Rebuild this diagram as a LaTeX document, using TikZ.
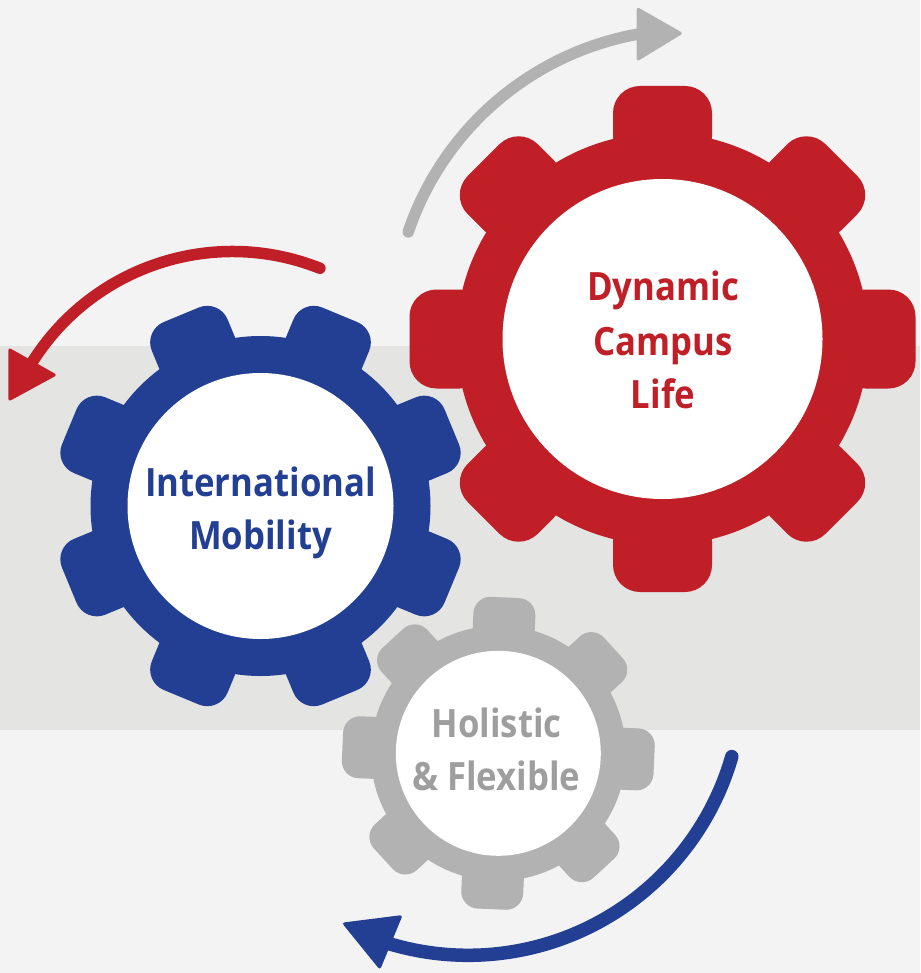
\documentclass[tikz,border=0pt]{standalone}
\usepackage{fontspec}
\setmainfont{Open Sans}
\newfontfamily\gearfont{Open Sans}[FakeStretch=0.89]
\definecolor{gred}{HTML}{C01F27}
\definecolor{gblue}{HTML}{233F93}
\definecolor{ggray}{HTML}{B2B2B2}
\definecolor{gtextgray}{HTML}{9E9E9E}
\definecolor{bglight}{HTML}{F3F3F3}
\definecolor{bgband}{HTML}{E4E4E3}
\newcommand\mygear[9]{%
  \begin{scope}[shift={(#1,#2)}]
    \fill[#9] (0,0) circle[radius=#4];
    \foreach \k in {0,...,7}{
      \pgfmathsetmacro\ang{\k*45+(#8)}
      \fill[#9, rotate=\ang, rounded corners=#7pt] (#4-30,-#6) -- (#3,-#6) -- (#3,#6) -- (#4-30,#6) -- cycle;
    }
    \fill[white] (0,0) circle[radius=#5];
  \end{scope}}
\tikzset{
  gtext/.style={font=\gearfont\fontsize{39}{47}\selectfont\bfseries, anchor=base, inner sep=0pt},
  arcline/.style={line width=#1, line cap=round},
  headfill/.style={rounded corners=3pt}
}
\begin{document}
\begin{tikzpicture}[x=1pt,y=-1pt]
\useasboundingbox (0,0) rectangle (920,973);
\fill[bglight] (0,0) rectangle (920,973);
\fill[bgband] (0,346) rectangle (920,730);

% arrows
\coordinate (gc) at (690.4,327.4);
\draw[ggray, arcline=11.5pt] (gc) ++(198.7:297.9) arc[start angle=198.7,end angle=261,radius=297.9];
\fill[ggray, headfill] (636.7,6.7) -- (683.3,33.3) -- (636.7,61.7) -- cycle;

\coordinate (rc) at (232.5,488);
\draw[gred, arcline=11.5pt] (rc) ++(-68.3:236.5) arc[start angle=-68.3,end angle=-150,radius=236.5];
\fill[gred, headfill] (8.3,347.3) -- (57.3,375) -- (8.3,401.7) -- cycle;

\coordinate (bc) at (468.1,681);
\draw[gblue, arcline=13.5pt] (bc) ++(16:274.3) arc[start angle=16,end angle=108.5,radius=274.3];
\fill[gblue, headfill] (341.7,922.7) -- (402.7,915) -- (380,970) -- cycle;

% gears
\mygear{662.5}{339}{253}{206}{160}{49.5}{27}{0}{gred}
\mygear{260.5}{506}{207}{170}{133}{41}{22}{22.5}{gblue}
\mygear{498.3}{753.3}{156}{127.5}{102.5}{31}{17}{-2.5}{ggray}

% texts
\node[gtext, text=gred] (d1) at (663,300.7) {Dynamic};
\node[gtext, text=gred] (d2) at (663,355) {Campus};
\node[gtext, text=gred] (d3) at (663,408.3) {Life};
\node[gtext, text=gblue] (i1) at (260.5,496.7) {International};
\node[gtext, text=gblue] (i2) at (260.5,549.3) {Mobility};
\node[gtext, text=gtextgray] (h1) at (496.7,737.3) {Holistic};
\node[gtext, text=gtextgray] (h2) at (496.2,790.7) {\& Flexible};
\end{tikzpicture}
\end{document}
